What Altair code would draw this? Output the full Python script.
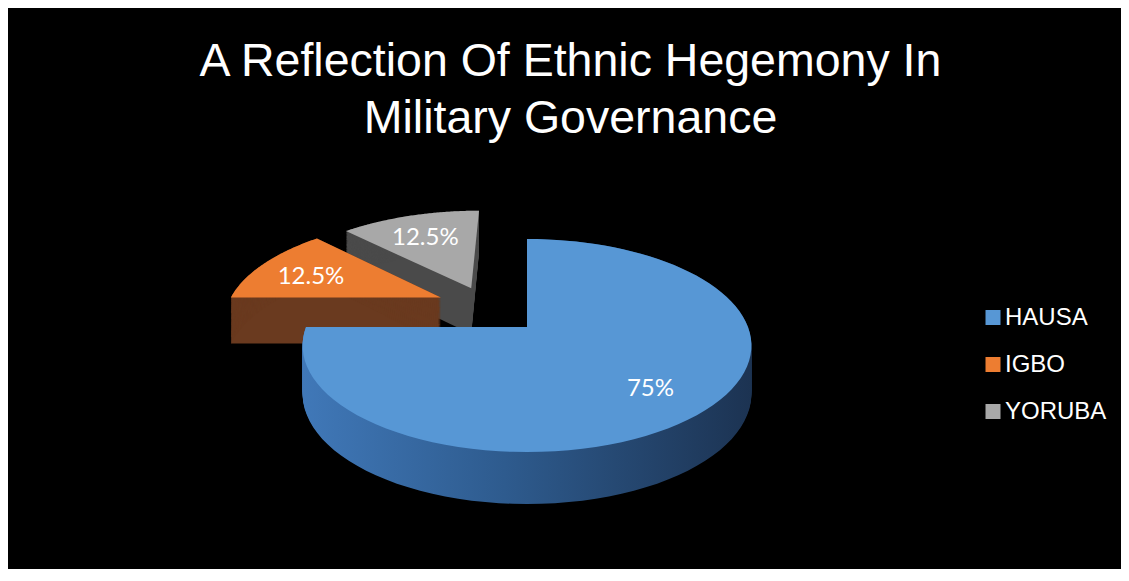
import altair as alt
import pandas as pd

# ---------------- data ----------------
CATEGORIES = ["HAUSA", "IGBO", "YORUBA"]
VALUES = [75, 12.5, 12.5]
LABELS = ["75%", "12.5%", "12.5%"]

# ---------------- style ----------------
TOP_COLORS = ["#5797d5", "#ed7d31", "#a8a8a8"]
EXPLODE_X = [0.0, -0.41, -0.27]   # explosion of slices in disc units
EXPLODE_Z = [0.0, 0.30, 0.40]

W = 1113
H_TOTAL = 560
PAD_TOP = 30
TITLE_BLOCK = 103
TITLE_OFFSET = 12
P_TOP = 8 + PAD_TOP + TITLE_BLOCK + TITLE_OFFSET
H = H_TOTAL - PAD_TOP - TITLE_BLOCK - TITLE_OFFSET

CX, CY = 527, 326          # pie centre (page pixels)
A, B, K = 221, 103.3, 0.174  # radii and perspective
T, KT = 47.3, 0.09          # thickness and its perspective
N = 90                      # arc resolution
M = 48                      # extrusion steps
R_LABEL = 0.72
LABEL_DY = 4

df = pd.DataFrame({
    "category": CATEGORIES,
    "value": VALUES,
    "label": LABELS,
    "idx": list(range(len(CATEGORIES))),
    "ex": EXPLODE_X,
    "ez": EXPLODE_Z,
})

xenc = lambda f: alt.X(f"{f}:Q", scale=alt.Scale(domain=[8, 8 + W], nice=False, zero=False), axis=None)
yenc = lambda f: alt.Y(f"{f}:Q", scale=alt.Scale(domain=[P_TOP, P_TOP + H], reverse=True, nice=False, zero=False), axis=None)

base = (
    alt.Chart(df)
    .transform_window(cum="sum(value)", sort=[alt.SortField("idx")], frame=[None, 0])
    .transform_joinaggregate(total="sum(value)")
    .transform_calculate(a0="2*PI*(datum.cum - datum.value)/datum.total")
    .transform_calculate(a1="2*PI*datum.cum/datum.total")
)

pts = (
    base.transform_calculate(seq=f"sequence(0, {N + 2})")
    .transform_flatten(["seq"], as_=["i"])
    .transform_calculate(ang=f"datum.a0 + (datum.a1 - datum.a0)*(datum.i - 1)/{N}")
    .transform_calculate(X="datum.ex + (datum.i == 0 ? 0 : sin(datum.ang))")
    .transform_calculate(Z="datum.ez + (datum.i == 0 ? 0 : cos(datum.ang))")
    .transform_calculate(w=f"1/(1 + {K}*datum.Z)")
    .transform_calculate(sx=f"{CX} + {A}*datum.X*datum.w")
    .transform_calculate(sy=f"{CY} - {B}*datum.Z*datum.w")
)

side = (
    pts.transform_calculate(cp=f"sequence(0, {M + 1})")
    .transform_flatten(["cp"], as_=["j"])
    .transform_calculate(sy2=f"datum.sy + datum.j/{M}*{T}/(1 + {KT}*datum.Z)")
)


def side_layer(cat, fill):
    return (
        side.transform_filter(alt.datum.category == cat)
        .mark_line(filled=True, fill=fill, interpolate="linear-closed")
        .encode(x=xenc("sx"), y=yenc("sy2"), detail="j:O", order="i:Q")
    )


hausa_grad = alt.LinearGradient(
    gradient="linear",
    stops=[
        alt.GradientStop(color="#4078b8", offset=0),
        alt.GradientStop(color="#2e5b8e", offset=0.45),
        alt.GradientStop(color="#1c3352", offset=1),
    ],
    x1=0, x2=1, y1=0, y2=0,
)

side_y = side_layer("YORUBA", "#4a4a4a")
side_i = side_layer("IGBO", "#6a3a1f")
side_h = side_layer("HAUSA", hausa_grad)

top = pts.mark_line(filled=True, interpolate="linear-closed").encode(
    x=xenc("sx"),
    y=yenc("sy"),
    color=alt.Color(
        "category:N",
        scale=alt.Scale(domain=CATEGORIES, range=TOP_COLORS),
        legend=alt.Legend(
            title=None,
            orient="none",
            legendX=973,
            legendY=304.5 - P_TOP,
            symbolType="square",
            symbolSize=225,
            symbolStrokeWidth=0,
            labelFont="Liberation Sans",
            labelFontSize=24,
            labelColor="white",
            labelOffset=0,
            rowPadding=23,
            padding=0,
        ),
    ),
    order="i:Q",
)

labels = (
    base.transform_calculate(mid="(datum.a0 + datum.a1)/2")
    .transform_calculate(X=f"datum.ex + {R_LABEL}*sin(datum.mid)")
    .transform_calculate(Z=f"datum.ez + {R_LABEL}*cos(datum.mid)")
    .transform_calculate(w=f"1/(1 + {K}*datum.Z)")
    .transform_calculate(sx=f"{CX} + {A}*datum.X*datum.w")
    .transform_calculate(sy=f"{CY} - {B}*datum.Z*datum.w")
    .mark_text(font="Lato", fontSize=24, color="white", align="center", baseline="middle", dy=LABEL_DY)
    .encode(x=xenc("sx"), y=yenc("sy"), text="label:N")
)

chart = (
    alt.layer(side_y, side_i, side_h, top, labels)
    .properties(
        width=W,
        height=H,
        padding={"left": 0, "right": 0, "top": PAD_TOP, "bottom": 0},
        title=alt.Title(
            ["A Reflection Of Ethnic Hegemony In", "Military Governance"],
            font="Liberation Sans",
            fontSize=46.5,
            fontWeight="normal",
            color="white",
            lineHeight=57,
            anchor="middle",
            offset=TITLE_OFFSET,
            dx=6,
        ),
    )
    .configure(background="black")
    .configure_view(stroke=None)
)

chart.save("out.html", embed_options={"renderer": "svg", "actions": False})
